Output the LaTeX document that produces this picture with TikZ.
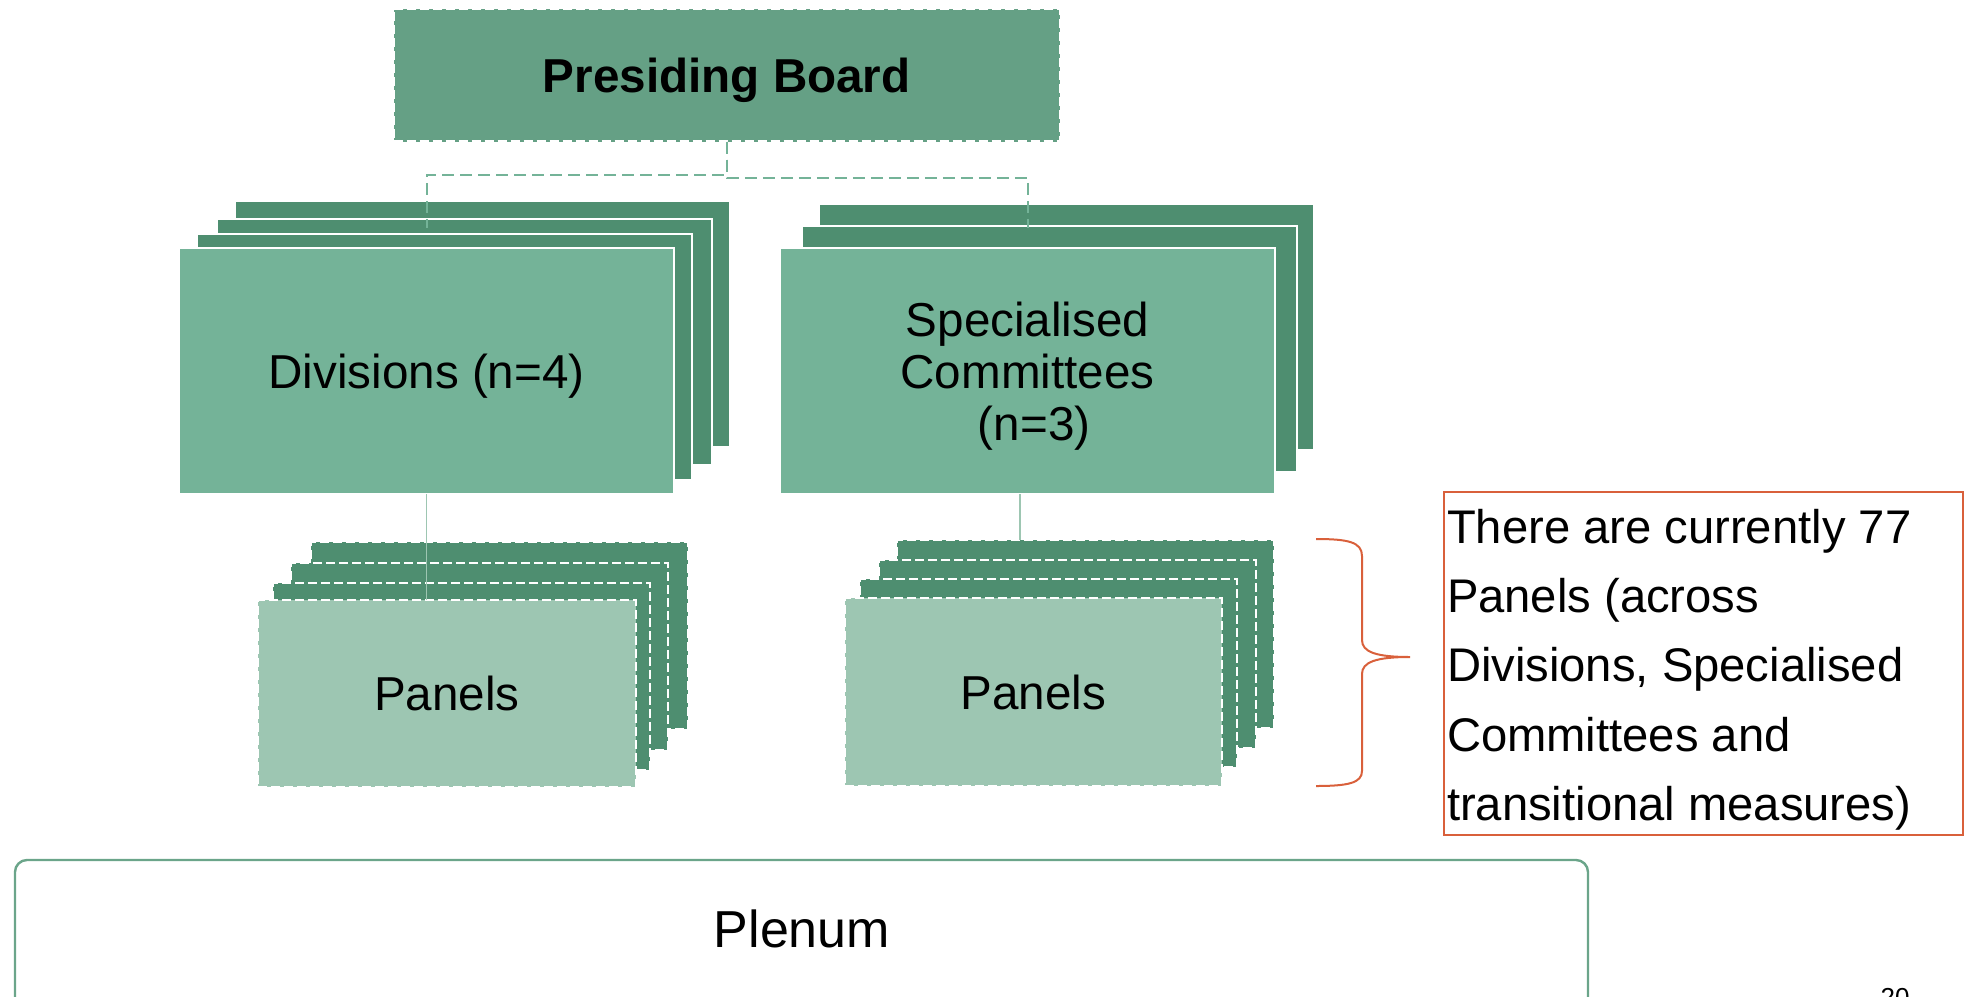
\documentclass[tikz,border=0pt]{standalone}
\usepackage{fontspec}
\setmainfont{Liberation Sans}
\definecolor{dkg}{HTML}{4E8E70}
\definecolor{mdg}{HTML}{74B398}
\definecolor{pbg}{HTML}{65A085}
\definecolor{ltg}{HTML}{9DC6B2}
\definecolor{lng}{HTML}{6BA58A}
\definecolor{brc}{HTML}{D9603B}
\newcommand\mkbox[7]{%
  \node[#2, minimum width={(#5-#3)*0.5pt}, minimum height={(#6-#4)*0.5pt}] (#1) at ({(#3+#5)/2},{(#4+#6)/2}) {#7};}
\tikzset{
  base/.style={inner sep=0pt, outer sep=0pt},
  stkback/.style={base, fill=dkg, draw=white, line width=0.9pt},
  stkfront/.style={base, fill=mdg, draw=white, line width=0.9pt, align=center, text depth=0pt, font=\fontsize{23.8}{26}\selectfont},
  pnlback/.style={base, fill=dkg, draw=white, line width=1.3pt, dash pattern=on 4.5pt off 2pt},
  pnlfront/.style={base, fill=ltg, draw=white, line width=1.3pt, dash pattern=on 4.5pt off 2pt, font=\fontsize{23.8}{26}\selectfont},
  pbbox/.style={base, fill=pbg, draw=white, line width=1.2pt, dash pattern=on 4.5pt off 2pt, text depth=0pt, font=\bfseries\fontsize{23.8}{26}\selectfont},
  conn/.style={draw=mdg, line width=1pt, dash pattern=on 6pt off 3pt},
  vline/.style={draw=ltg, line width=0.8pt},
  plenumbox/.style={base, draw=lng, line width=1.2pt, rounded corners=6pt},
  notebox/.style={base, draw=brc, line width=1pt}
}
\begin{document}
\begin{tikzpicture}[x=0.5pt, y=-0.5pt]
\useasboundingbox (0,0) rectangle (1965,996);
\clip (0,0) rectangle (1965,996);
% Presiding Board
\mkbox{pb}{pbbox}{393.5}{8.8}{1060}{141.6}{Presiding Board}
% Divisions stack
\mkbox{d4}{stkback}{235}{201}{730}{447}{}
\mkbox{d3}{stkback}{217}{219}{712}{465}{}
\mkbox{d2}{stkback}{197}{234}{692}{480}{}
\mkbox{d1}{stkfront}{179}{248}{674}{494}{Divisions (n=4)}
% Specialised Committees stack
\mkbox{s3}{stkback}{819}{204}{1314}{450}{}
\mkbox{s2}{stkback}{802}{226}{1297}{472}{}
\mkbox{s1}{stkfront}{780}{248}{1275}{494}{Specialised\\Committees\\\hspace*{0.28em}(n=3)}
% Left panels
\mkbox{lp4}{pnlback}{311}{542}{688}{729}{}
\mkbox{lp3}{pnlback}{291}{563}{668}{750}{}
\mkbox{lp2}{pnlback}{273}{583}{650}{770}{}
\mkbox{lp1}{pnlfront}{258}{600}{636}{787}{Panels}
% Right panels
\mkbox{rp4}{pnlback}{897}{540}{1274}{728}{}
\mkbox{rp3}{pnlback}{879}{560}{1256}{748}{}
\mkbox{rp2}{pnlback}{860}{579}{1237}{767}{}
\mkbox{rp1}{pnlfront}{845}{598}{1222}{786}{Panels}
% connectors from Presiding Board
\coordinate (jl) at (426.5,228);
\coordinate (jr) at (1027.5,228);
\draw[conn] (pb.south) -- ++(0,33) -| (jl);
\draw[conn] (pb.south) -- ++(0,36) -| (jr);
% connectors to panels
\draw[vline] (d1.south) -- (d1.south |- lp1.north);
\coordinate (sc) at (1020,494);
\draw[vline] (sc) -- (sc |- rp4.north);
% brace
\draw[brc, line width=1pt]
  (1316,539) .. controls (1348,539) and (1362,542) .. (1362,556)
  -- (1362,640) .. controls (1362,652) and (1376,657) .. (1410,657)
  .. controls (1376,657) and (1362,662) .. (1362,674)
  -- (1362,771) .. controls (1362,783) and (1348,786) .. (1316,786);
% note box
\mkbox{note}{notebox}{1444}{492}{1963}{835}{}
\node[base, anchor=north west, align=left,
      font=\fontsize{23.6}{34.65}\selectfont] (notetxt) at (1447,509)
  {There are currently 77\\Panels (across\\Divisions, Specialised\\Committees and\\transitional measures)};
% plenum
\mkbox{plenum}{plenumbox}{15}{860}{1588}{1012}{}
\node[base, font=\fontsize{26}{28}\selectfont] (plenumtxt) at (802,929) {Plenum};
% page number
\node[base, anchor=north, font=\fontsize{13}{15}\selectfont] (pgnum) at (1895,988) {20};
\end{tikzpicture}
\end{document}
